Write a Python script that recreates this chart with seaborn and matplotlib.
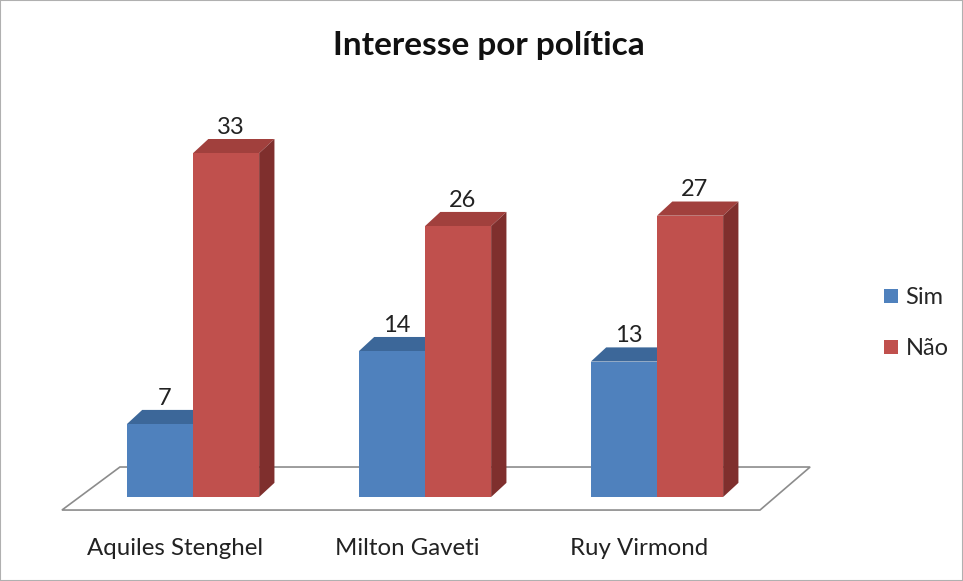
import numpy as np
import pandas as pd
import matplotlib.pyplot as plt
from matplotlib.patches import Polygon, Rectangle
from matplotlib.lines import Line2D
import seaborn as sns

# data
candidates = ['Aquiles Stenghel', 'Milton Gaveti', 'Ruy Virmond']
sim = [7, 14, 13]
nao = [33, 26, 27]
series = ['Sim', 'Não']

front = {'Sim': '#4F81BD', 'Não': '#C0504D'}
top_c = {'Sim': '#3C6799', 'Não': '#A1403D'}
side_c = {'Sim': '#34598A', 'Não': '#7F2F2D'}

df = pd.DataFrame({
    'candidato': candidates * 2,
    'resposta': ['Sim'] * 3 + ['Não'] * 3,
    'valor': sim + nao,
})

sns.set_style('white')
plt.rcParams['font.family'] = ['Lato', 'DejaVu Sans']

fig = plt.figure(figsize=(9.63, 5.81), dpi=100)
ax = fig.add_axes([0, 0, 1, 1])

sns.barplot(data=df, x='candidato', y='valor', hue='resposta', hue_order=series,
            palette=front, width=0.57, linewidth=0, saturation=1, legend=False, ax=ax)

ax.set_xlim(-0.832, 3.319)
ax.set_ylim(-8.06, 47.7)
ax.axis('off')

# depth of the fake 3d bars (data units)
dx, dy = 0.066, 1.36

# floor
floor = Polygon([(-0.565, -1.25), (2.444, -1.25), (2.66, 2.88), (-0.315, 2.88)],
                closed=True, facecolor='white', edgecolor='#8c8c8c', lw=1.2, zorder=1)
ax.add_patch(floor)

for k, (name, cont) in enumerate(zip(series, ax.containers)):
    z = 2 + k * 2
    for bar in cont:
        bar.set_zorder(z + 1)
        x0, w, h = bar.get_x(), bar.get_width(), bar.get_height()
        ax.add_patch(Polygon([(x0, h), (x0 + w, h), (x0 + w + dx, h + dy), (x0 + dx, h + dy)],
                             closed=True, facecolor=top_c[name], lw=0, zorder=z))
        ax.add_patch(Polygon([(x0 + w, 0), (x0 + w + dx, dy), (x0 + w + dx, h + dy), (x0 + w, h)],
                             closed=True, facecolor=side_c[name], lw=0, zorder=z))
        ax.text(x0 + w / 2 + dx * 0.3, h + dy + 0.1, f'{h:.0f}', ha='center', va='bottom',
                fontsize=17, color='#222222', zorder=10)

for i, name in enumerate(candidates):
    ax.text(i - 0.078, -4.9, name, ha='center', va='center', fontsize=17.3, color='#222222')

ax.text(0.508, 0.922, 'Interesse por política', transform=fig.transFigure, ha='center',
        va='center', fontsize=24, fontweight='bold', color='#111111')

handles = [Line2D([], [], marker='s', ls='', markersize=10, markerfacecolor=front[s],
                  markeredgewidth=0) for s in series]
fig.legend(handles, series, loc='center left', bbox_to_anchor=(0.895, 0.444), frameon=False,
           fontsize=17, labelspacing=1.25, handletextpad=0.25, handlelength=0.7)

fig.patches.append(Rectangle((0, 0), 1, 1, transform=fig.transFigure, fill=False,
                             edgecolor='#b0b0b0', lw=1.5))

fig.savefig('out.png', dpi=100)
